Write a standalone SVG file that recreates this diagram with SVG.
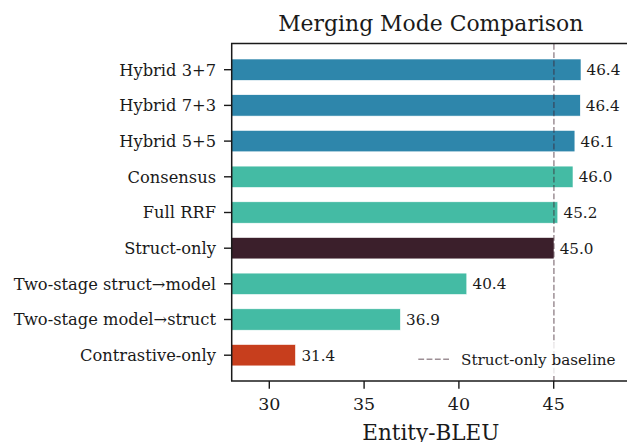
<svg xmlns="http://www.w3.org/2000/svg" width="627" height="442" viewBox="0 0 627 442">
<style>
text{font-family:"DejaVu Serif","Liberation Serif",serif;fill:#1a1a1a}
.yt{font-size:16.3px;text-anchor:end}
.xt{font-size:17.5px;text-anchor:middle}
.val{font-size:15.2px}
.bar{stroke:#ffffff;stroke-width:0.6}
.blue{fill:#2E86AB}
.green{fill:#44BBA4}
.dark{fill:#3B1F2B}
.red{fill:#C73E1D}
.tick{stroke:#1a1a1a;stroke-width:1.4}
.base{stroke:#3B1F2B;stroke-opacity:0.5;stroke-width:1.5;stroke-dasharray:5.8 2.5}
</style>
<rect width="627" height="442" fill="#ffffff"/>
<g id="bars">
<g id="hybrid37"><rect class="bar blue" x="231.7" y="59" width="349.3" height="21.4"/><text class="val" x="586.5" y="75.2">46.4</text></g>
<g id="hybrid73"><rect class="bar blue" x="231.7" y="94.7" width="348.6" height="21.4"/><text class="val" x="585.8" y="110.9">46.4</text></g>
<g id="hybrid55"><rect class="bar blue" x="231.7" y="130.4" width="343.2" height="21.4"/><text class="val" x="580.6" y="146.6">46.1</text></g>
<g id="consensus"><rect class="bar green" x="231.7" y="166.1" width="341.3" height="21.4"/><text class="val" x="578.7" y="182.3">46.0</text></g>
<g id="fullrrf"><rect class="bar green" x="231.7" y="201.8" width="326.1" height="21.4"/><text class="val" x="563.5" y="218">45.2</text></g>
<g id="structonly"><rect class="bar dark" x="231.7" y="237.5" width="322.3" height="21.4"/><text class="val" x="559.7" y="253.7">45.0</text></g>
<g id="twostage_sm"><rect class="bar green" x="231.7" y="273.1" width="235.1" height="21.4"/><text class="val" x="472.5" y="289.3">40.4</text></g>
<g id="twostage_ms"><rect class="bar green" x="231.7" y="308.8" width="168.7" height="21.4"/><text class="val" x="406.1" y="325">36.9</text></g>
<g id="contrastive"><rect class="bar red" x="231.7" y="344.5" width="63.8" height="21.4"/><text class="val" x="301.4" y="360.7">31.4</text></g>
</g>
<g id="connectors">
<line class="base" x1="553.9" y1="44" x2="553.9" y2="381"/>
</g>
<g id="legend">
<rect x="410" y="343" width="212" height="32" rx="3" fill="#ffffff" fill-opacity="0.8"/>
<line class="base" x1="418.3" y1="359.3" x2="449.3" y2="359.3"/>
<text class="val" x="461" y="364.5">Struct-only baseline</text>
</g>
<g id="axes">
<path d="M231.7 381 V43.5 H627" fill="none" stroke="#1a1a1a" stroke-width="1.5"/>
<line x1="231" y1="381" x2="627" y2="381" stroke="#1a1a1a" stroke-width="1.5"/>
<g class="tick">
<line x1="224" y1="69.7" x2="231.7" y2="69.7"/>
<line x1="224" y1="105.4" x2="231.7" y2="105.4"/>
<line x1="224" y1="141.1" x2="231.7" y2="141.1"/>
<line x1="224" y1="176.8" x2="231.7" y2="176.8"/>
<line x1="224" y1="212.5" x2="231.7" y2="212.5"/>
<line x1="224" y1="248.2" x2="231.7" y2="248.2"/>
<line x1="224" y1="283.8" x2="231.7" y2="283.8"/>
<line x1="224" y1="319.5" x2="231.7" y2="319.5"/>
<line x1="224" y1="355.2" x2="231.7" y2="355.2"/>
<line x1="269.3" y1="381" x2="269.3" y2="388.7"/>
<line x1="364.1" y1="381" x2="364.1" y2="388.7"/>
<line x1="458.9" y1="381" x2="458.9" y2="388.7"/>
<line x1="553.7" y1="381" x2="553.7" y2="388.7"/>
</g>
<text class="yt" x="216" y="75.6">Hybrid 3+7</text>
<text class="yt" x="216" y="111.3">Hybrid 7+3</text>
<text class="yt" x="216" y="147">Hybrid 5+5</text>
<text class="yt" x="216" y="182.7">Consensus</text>
<text class="yt" x="216" y="218.4">Full RRF</text>
<text class="yt" x="216" y="254.1">Struct-only</text>
<text class="yt" x="216" y="289.7">Two-stage struct→model</text>
<text class="yt" x="216" y="325.4">Two-stage model→struct</text>
<text class="yt" x="216" y="361.1">Contrastive-only</text>
<text class="xt" x="269.3" y="410">30</text>
<text class="xt" x="364.1" y="410">35</text>
<text class="xt" x="458.9" y="410">40</text>
<text class="xt" x="553.7" y="410">45</text>
<text x="430.8" y="439.5" font-size="21.5px" text-anchor="middle">Entity-BLEU</text>
<text x="430.8" y="30.7" font-size="21.9px" text-anchor="middle">Merging Mode Comparison</text>
</g>
</svg>
